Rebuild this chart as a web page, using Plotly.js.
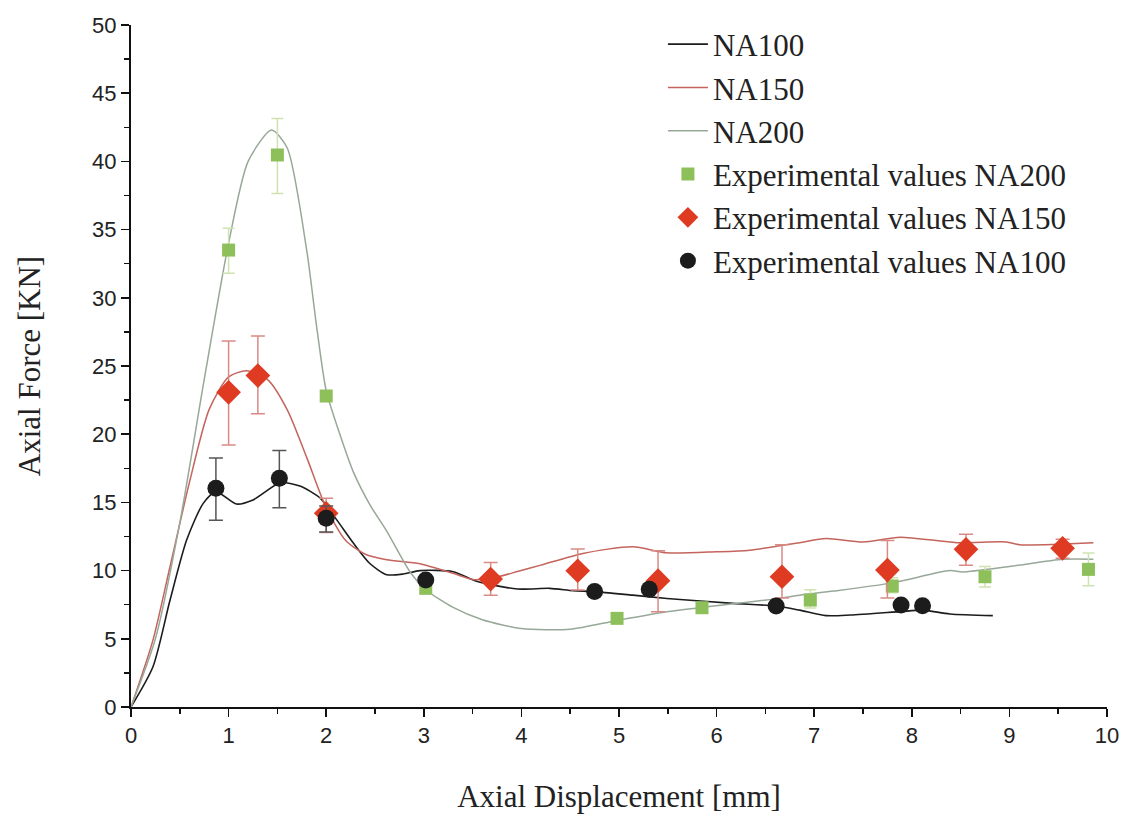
<!DOCTYPE html>
<html>
<head>
<meta charset="utf-8">
<script src="https://cdn.plot.ly/plotly-3.0.1.min.js"></script>
<style>html,body{margin:0;padding:0;background:#fff;}#chart{width:1141px;height:816px;}</style>
</head>
<body>
<div id="chart"></div>
<script>
// Simulated curves
const na100X = [0, 0.225, 0.4, 0.57, 0.74, 0.87, 1.08, 1.25, 1.53, 1.73, 1.94, 2.11, 2.28, 2.45, 2.62, 2.79, 2.96, 3.3, 3.55, 3.96, 4.29, 4.53, 4.75, 5.14, 5.49, 6.17, 6.61, 6.85, 7.12, 7.37, 7.88, 8.11, 8.39, 8.83];
const na100Y = [0, 2.95, 7.84, 12.24, 14.93, 15.78, 14.88, 15.18, 16.44, 16.2, 15.3, 13.7, 12.0, 10.5, 9.7, 9.75, 10.0, 9.92, 9.2, 8.65, 8.7, 8.53, 8.46, 8.2, 7.96, 7.6, 7.4, 7.1, 6.7, 6.74, 6.99, 7.1, 6.82, 6.7];

const na150X = [0, 0.225, 0.4, 0.6, 0.8, 1.0, 1.185, 1.4, 1.6, 1.8, 2.0, 2.2, 2.4, 2.62, 2.96, 3.3, 3.5, 3.7, 3.97, 4.2, 4.63, 5.14, 5.49, 6.0, 6.34, 6.85, 7.12, 7.5, 7.88, 8.46, 8.97, 9.1, 9.86];
const na150Y = [0, 4.9, 10.3, 16.5, 21.8, 24.2, 24.65, 24.0, 21.8, 18.3, 14.6, 12.2, 11.2, 10.8, 10.5, 9.8, 9.35, 9.45, 9.95, 10.4, 11.26, 11.75, 11.3, 11.38, 11.5, 12.05, 12.35, 12.1, 12.45, 12.05, 12.1, 11.9, 12.05];

const na200X = [0, 0.25, 0.5, 0.75, 1.0, 1.2, 1.44, 1.6, 1.8, 1.9, 2.0, 2.14, 2.28, 2.45, 2.62, 2.86, 3.02, 3.3, 3.6, 4.0, 4.5, 4.98, 5.49, 5.85, 6.51, 6.85, 7.2, 7.8, 8.39, 8.52, 9.0, 9.55, 9.86];
const na200Y = [0, 5.0, 13.5, 24.0, 34.0, 40.0, 42.3, 41.0, 33.5, 28.0, 23.2, 20.0, 17.2, 14.8, 12.9, 9.9, 8.6, 7.3, 6.4, 5.75, 5.7, 6.35, 6.99, 7.3, 7.84, 8.2, 8.5, 9.1, 10.0, 9.9, 10.3, 10.83, 10.83];

// Experimental values
const expNA200X = [1.0, 1.5, 2.0, 3.02, 4.98, 5.85, 6.96, 7.8, 8.75, 9.81];
const expNA200Y = [33.5, 40.47, 22.8, 8.7, 6.5, 7.28, 7.84, 8.87, 9.55, 10.09];
const expNA200ErrPlus = [1.6, 2.68, 0, 0, 0, 0, 0.76, 0.6, 0.75, 1.2];
const expNA200ErrMinus = [1.7, 2.82, 0, 0, 0, 0, 0.58, 0.5, 0.75, 1.2];

const expNA150X = [1.0, 1.30, 2.0, 3.685, 4.577, 5.40, 6.67, 7.75, 8.555, 9.545];
const expNA150Y = [23.07, 24.3, 14.2, 9.38, 9.99, 9.26, 9.55, 10.04, 11.56, 11.63];
const expNA150ErrPlus = [3.76, 2.9, 1.1, 1.22, 1.59, 2.2, 2.35, 2.16, 1.1, 0.67];
const expNA150ErrMinus = [3.87, 2.8, 1.4, 1.18, 1.41, 2.27, 1.55, 2.04, 1.16, 0.73];

const expNA100X = [0.87, 1.52, 2.0, 3.02, 4.75, 5.31, 6.61, 7.89, 8.11];
const expNA100Y = [16.03, 16.77, 13.83, 9.31, 8.46, 8.63, 7.4, 7.48, 7.43];
const expNA100ErrPlus = [2.23, 2.03, 0.9, 0, 0, 0, 0, 0, 0];
const expNA100ErrMinus = [2.33, 2.17, 1.0, 0, 0, 0, 0, 0, 0];

const serif = '"Liberation Serif", "Times New Roman", serif';
const sans = '"Liberation Sans", Arial, sans-serif';

const traces = [
  {x: na100X, y: na100Y, mode: 'lines', name: 'NA100', legendgroup: 'a',
   line: {color: '#1c1c1c', width: 1.6, shape: 'spline', smoothing: 0.7}},
  {x: na150X, y: na150Y, mode: 'lines', name: 'NA150', legendgroup: 'b',
   line: {color: '#c4645c', width: 1.5, shape: 'spline', smoothing: 0.7}},
  {x: na200X, y: na200Y, mode: 'lines', name: 'NA200', legendgroup: 'c',
   line: {color: '#98a898', width: 1.5, shape: 'spline', smoothing: 0.7}},
  {x: expNA200X, y: expNA200Y, mode: 'markers', name: 'Experimental values NA200', legendgroup: 'd',
   marker: {symbol: 'square', size: 13, color: '#8dc05a'},
   error_y: {type: 'data', symmetric: false, array: expNA200ErrPlus, arrayminus: expNA200ErrMinus,
             color: '#cfe3b0', thickness: 1.5, width: 6}},
  {x: expNA150X, y: expNA150Y, mode: 'markers', name: 'Experimental values NA150', legendgroup: 'e',
   marker: {symbol: 'diamond', size: 19, color: '#df3a22'},
   error_y: {type: 'data', symmetric: false, array: expNA150ErrPlus, arrayminus: expNA150ErrMinus,
             color: '#d98a85', thickness: 1.5, width: 7}},
  {x: expNA100X, y: expNA100Y, mode: 'markers', name: 'Experimental values NA100', legendgroup: 'f',
   marker: {symbol: 'circle', size: 17, color: '#1c1c1c'},
   error_y: {type: 'data', symmetric: false, array: expNA100ErrPlus, arrayminus: expNA100ErrMinus,
             color: '#555555', thickness: 1.5, width: 7}}
];

const layout = {
  width: 1141, height: 816,
  margin: {l: 131, r: 34, t: 25, b: 109},
  paper_bgcolor: '#ffffff', plot_bgcolor: '#ffffff',
  showlegend: true,
  legend: {
    x: 0.545, y: 1.011, xanchor: 'left', yanchor: 'top',
    font: {family: serif, size: 31, color: '#222'},
    bgcolor: 'rgba(0,0,0,0)', traceorder: 'grouped', tracegroupgap: 0,
    itemwidth: 40
  },
  xaxis: {
    range: [0, 10], dtick: 1, tick0: 0,
    showgrid: false, zeroline: false,
    showline: true, linecolor: '#111', linewidth: 2,
    ticks: 'outside', ticklen: 8, tickwidth: 1.5, tickcolor: '#111',
    minor: {dtick: 0.5, ticks: 'outside', ticklen: 5, tickwidth: 1.5, tickcolor: '#111', showgrid: false},
    tickfont: {family: sans, size: 22, color: '#222'},
    title: {text: 'Axial Displacement [mm]', font: {family: serif, size: 31, color: '#222'}, standoff: 38}
  },
  yaxis: {
    range: [0, 50], dtick: 5, tick0: 0,
    showgrid: false, zeroline: false,
    showline: true, linecolor: '#111', linewidth: 2,
    ticks: 'outside', ticklen: 8, tickwidth: 1.5, tickcolor: '#111',
    minor: {dtick: 2.5, ticks: 'outside', ticklen: 5, tickwidth: 1.5, tickcolor: '#111', showgrid: false},
    tickfont: {family: sans, size: 22, color: '#222'},
    title: {text: 'Axial Force [KN]', font: {family: serif, size: 31, color: '#222'}, standoff: 42}
  }
};

Plotly.newPlot('chart', traces, layout, {displayModeBar: false, staticPlot: true});
</script>
</body>
</html>
